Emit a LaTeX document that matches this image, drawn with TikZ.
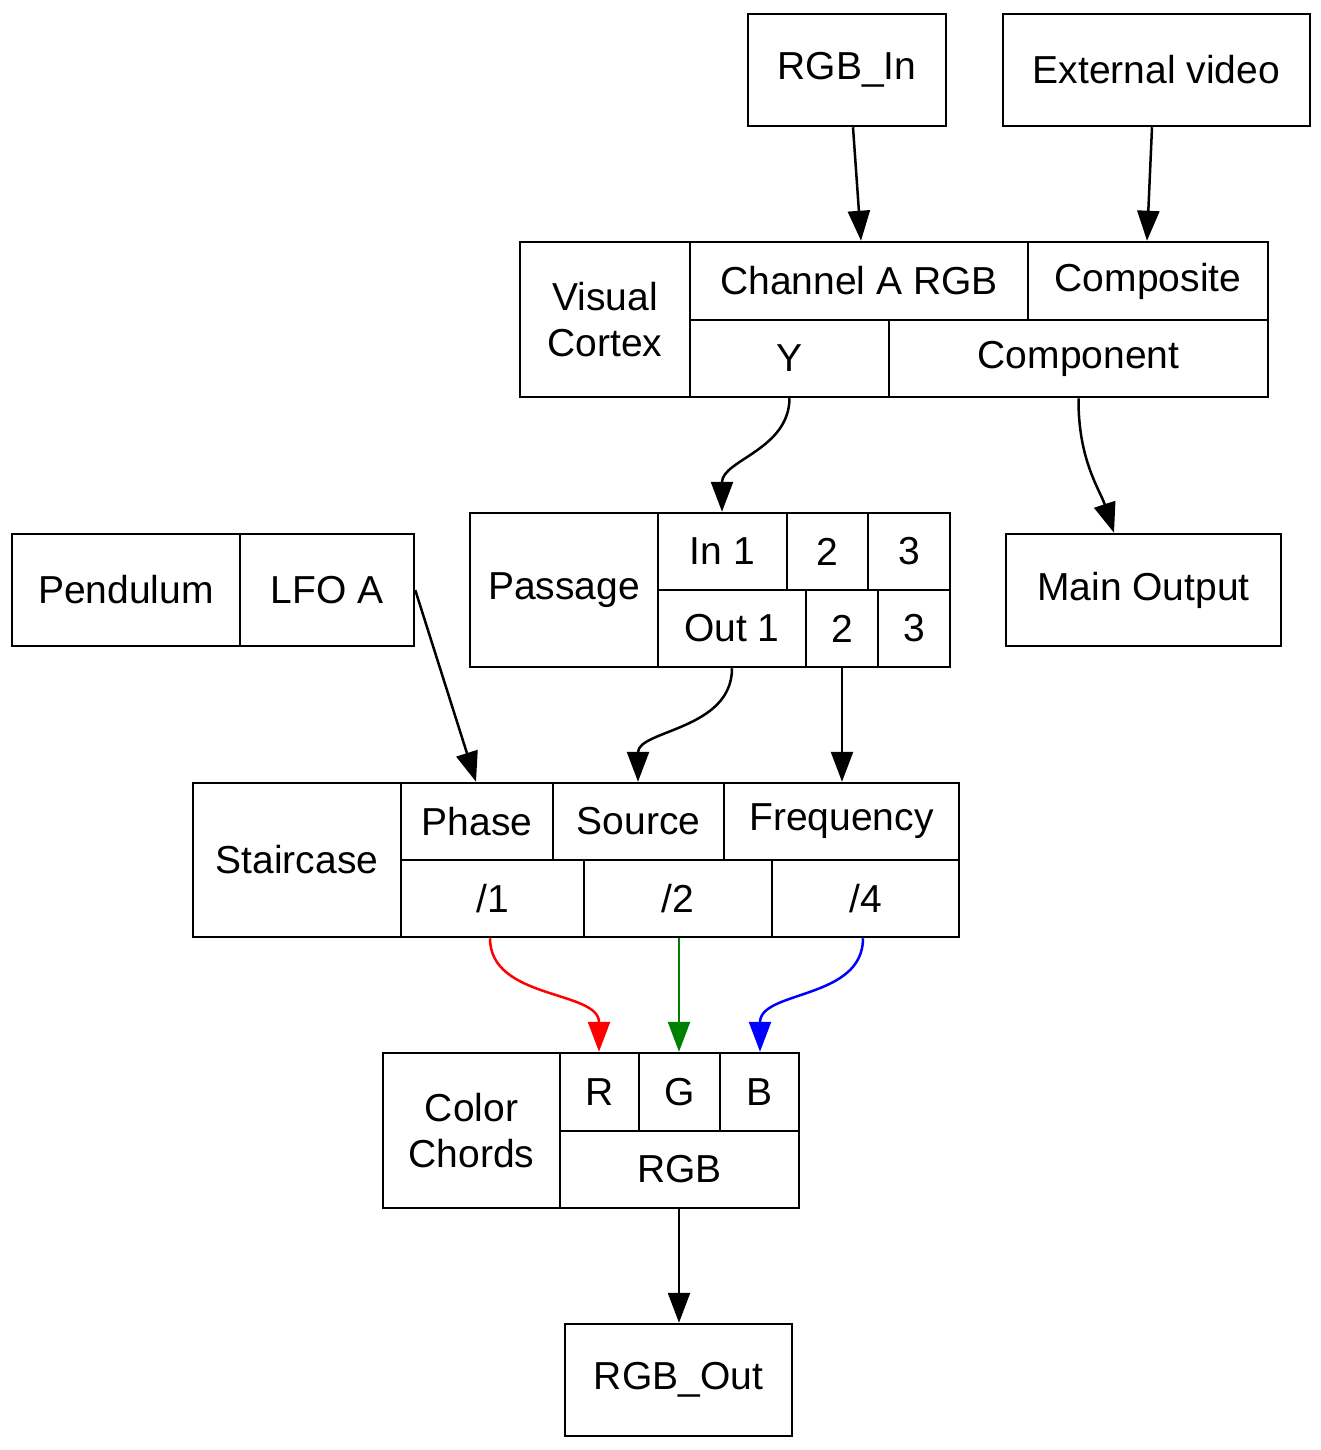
\documentclass[tikz,border=0pt]{standalone}
\usepackage{fontspec}
\setmainfont{Liberation Sans}
\usetikzlibrary{arrows.meta}
\begin{document}
\begin{tikzpicture}[x=0.5pt,y=-0.5pt,
  cell/.style={draw,line width=1.25pt,inner sep=0pt,font=\fontsize{19.5pt}{23pt}\selectfont,align=center},
  conn/.style={line width=1.25pt,-{Triangle[length=15pt,width=11pt]}}]
\useasboundingbox (0,0) rectangle (1321,1450);
\newcommand\cell[6]{\node[cell,minimum width={(#4-#2)*0.5pt},minimum height={(#5-#3)*0.5pt}] (#1) at ({(#2+#4)/2},{(#3+#5)/2}) {#6};}
\cell{rgbin}{748}{14}{946}{126}{RGB\_In}
\cell{ext}{1003}{14}{1310}{126}{External video}
\cell{vc}{520}{242}{690}{397}{Visual\\Cortex}
\cell{cha}{690}{242}{1028}{320}{Channel A RGB}
\cell{comp}{1028}{242}{1268}{320}{Composite}
\cell{y}{690}{320}{889}{397}{Y}
\cell{compo}{889}{320}{1268}{397}{Component}
\cell{pend}{12}{534}{240}{646}{Pendulum}
\cell{lfo}{240}{534}{414}{646}{LFO A}
\cell{pas}{470}{513}{658}{667}{Passage}
\cell{in1}{658}{513}{787}{590}{In 1}
\cell{in2}{787}{513}{868}{590}{2}
\cell{in3}{868}{513}{950}{590}{3}
\cell{out1}{658}{590}{806}{667}{Out 1}
\cell{out2}{806}{590}{878}{667}{2}
\cell{out3}{878}{590}{950}{667}{3}
\cell{mo}{1006}{534}{1281}{646}{Main Output}
\cell{st}{193}{783}{401}{937}{Staircase}
\cell{phase}{401}{783}{553}{860}{Phase}
\cell{src}{553}{783}{724}{860}{Source}
\cell{freq}{724}{783}{959}{860}{Frequency}
\cell{d1}{401}{860}{584}{937}{/1}
\cell{d2}{584}{860}{772}{937}{/2}
\cell{d4}{772}{860}{959}{937}{/4}
\cell{cc}{383}{1053}{560}{1208}{Color\\Chords}
\cell{r}{560}{1053}{639}{1131}{R}
\cell{g}{639}{1053}{720}{1131}{G}
\cell{b}{720}{1053}{799}{1131}{B}
\cell{rgb}{560}{1131}{799}{1208}{RGB}
\cell{rgbout}{565}{1324}{792}{1436}{RGB\_Out}

\draw[conn] (rgbin.south -| 853,0) -- (cha.north -| 861,0);
\draw[conn] (ext.south -| 1152,0) -- (comp.north -| 1147,0);
\draw[conn] (y.south) .. controls (789,450) and (722,460) .. (in1.north -| 722,0);
\draw[conn] (compo.south) .. controls (1078,460) and (1100,490) .. (mo.north -| 1114,0);
\draw[conn] (lfo.east) -- (phase.north -| 476,0);
\draw[conn] (out1.south -| 732,0) .. controls (732,730) and (638,730) .. (src.north -| 638,0);
\draw[conn] (out2.south) -- (freq.north -| 842,0);
\draw[conn,red] (d1.south -| 490,0) .. controls (490,1000) and (599,990) .. (r.north -| 599,0);
\draw[conn,green!50!black] (d2.south -| 679,0) -- (g.north -| 679,0);
\draw[conn,blue] (d4.south -| 863,0) .. controls (863,1000) and (760,990) .. (b.north -| 760,0);
\draw[conn] (rgb.south -| 679,0) -- (rgbout.north -| 679,0);
\end{tikzpicture}
\end{document}
